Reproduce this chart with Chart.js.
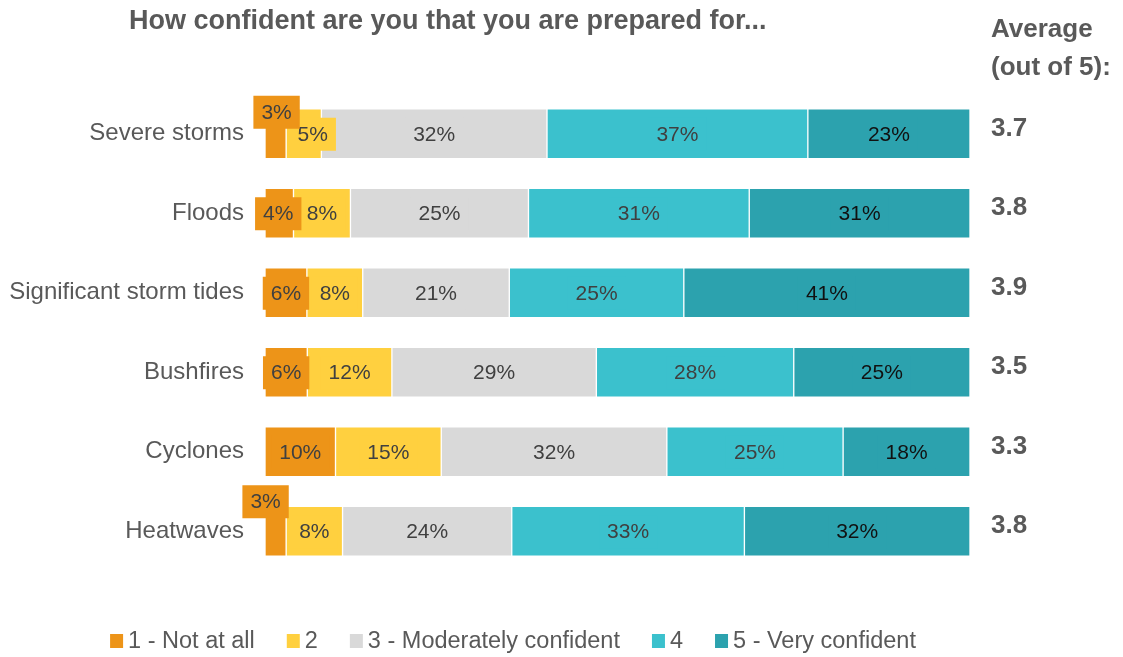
<!DOCTYPE html>
<html>
<head>
<meta charset="utf-8">
<script src="https://cdn.jsdelivr.net/npm/chart.js@4/dist/chart.umd.min.js"></script>
<style>
  html, body { margin:0; padding:0; background:#fff; }
  #wrap { width:1123px; height:657px; position:relative; }
</style>
</head>
<body>
<div id="wrap"><canvas id="chart" width="1123" height="657"></canvas></div>
<script>
// ---- data ----
const hazards   = ['Severe storms','Floods','Significant storm tides','Bushfires','Cyclones','Heatwaves'];
const levels    = ['1 - Not at all','2','3 - Moderately confident','4','5 - Very confident'];
const notAtAll  = [3, 4, 6, 6, 10, 3];
const two       = [5, 8, 8, 12, 15, 8];
const moderate  = [32, 25, 21, 29, 32, 24];
const four      = [37, 31, 25, 28, 25, 33];
const very      = [23, 31, 41, 25, 18, 32];
const averages  = [3.7, 3.8, 3.9, 3.5, 3.3, 3.8];

const RAW    = [notAtAll, two, moderate, four, very];
const COLORS = ['#ED9418', '#FFD03F', '#D9D9D9', '#3BC1CD', '#2CA2AE'];
const TXT    = '#595959';
const FONT   = '"Liberation Sans", Arial, sans-serif';

// small labels that sit off their segment: 'row,dataset' -> [dx, dy]
const LABEL_SHIFT = { '0,0':[1,-22], '0,1':[9,0], '1,0':[-1,0], '5,0':[-10,-30] };

// bars are shown as share of each row's total (rows add to 99-101)
const totals = hazards.map((h, i) => RAW.reduce((s, arr) => s + arr[i], 0));

const segLabels = {
  id: 'segLabels',
  afterDatasetsDraw(chart) {
    const ctx = chart.ctx;
    ctx.save();
    ctx.font = '21px ' + FONT;
    ctx.textAlign = 'center';
    ctx.textBaseline = 'middle';
    // last series first so the first one ends on top
    for (let d = chart.data.datasets.length - 1; d >= 0; d--) {
      const meta = chart.getDatasetMeta(d);
      meta.data.forEach((bar, i) => {
        const txt = RAW[d][i] + '%';
        const off = LABEL_SHIFT[i + ',' + d] || [0, 0];
        const x = (bar.x + bar.base) / 2 + off[0];
        const y = bar.y + off[1];
        const w = ctx.measureText(txt).width + 16;
        ctx.fillStyle = COLORS[d];
        ctx.fillRect(x - w / 2, y - 16, w, 33);
        ctx.fillStyle = d === 4 ? '#111' : '#404040';
        ctx.fillText(txt, x, y + 1);
      });
    }
    ctx.restore();
  },
  afterDraw(chart) {
    const ctx = chart.ctx;
    ctx.save();
    ctx.fillStyle = TXT;
    ctx.textBaseline = 'middle';

    // title
    ctx.font = 'bold 27px ' + FONT;
    ctx.textAlign = 'left';
    ctx.fillText('How confident are you that you are prepared for...', 129, 22);

    // averages column
    ctx.font = 'bold 26px ' + FONT;
    ctx.fillText('Average', 991, 30);
    ctx.fillText('(out of 5):', 991, 68);
    const meta = chart.getDatasetMeta(0);
    meta.data.forEach((bar, i) => {
      ctx.fillText(averages[i].toFixed(1), 991, bar.y - 5);
    });

    // legend
    ctx.font = '23.5px ' + FONT;
    const box = 13, gap = 5, space = 32;
    const widths = levels.map(l => box + gap + ctx.measureText(l).width);
    const total = widths.reduce((a, b) => a + b, 0) + space * (levels.length - 1);
    let x = 513 - total / 2;
    const ly = 641;
    levels.forEach((l, i) => {
      ctx.fillStyle = COLORS[i];
      ctx.fillRect(x, ly - 7, box, 14);
      ctx.fillStyle = TXT;
      ctx.fillText(l, x + box + gap, ly + 1);
      x += widths[i] + space;
    });
    ctx.restore();
  }
};

new Chart(document.getElementById('chart'), {
  type: 'bar',
  data: {
    labels: hazards,
    datasets: RAW.map((arr, d) => ({
      label: levels[d],
      data: arr.map((v, i) => v / totals[i] * 100),
      backgroundColor: COLORS[d],
      borderColor: 'rgba(255,255,255,0.35)',
      borderWidth: 1,
      borderSkipped: false,
      barThickness: 50
    }))
  },
  options: {
    indexAxis: 'y',
    responsive: false,
    animation: false,
    layout: { padding: { left: 0, right: 153, top: 94, bottom: 86 } },
    plugins: { legend: { display: false }, tooltip: { enabled: false }, title: { display: false } },
    scales: {
      x: { stacked: true, min: 0, max: 100, display: false },
      y: {
        stacked: true,
        grid: { display: false, drawTicks: false },
        border: { display: false },
        ticks: { color: TXT, font: { size: 24, family: FONT }, padding: 21 },
        afterFit(axis) { axis.width = 265; }
      }
    }
  },
  plugins: [segLabels]
});
</script>
</body>
</html>
